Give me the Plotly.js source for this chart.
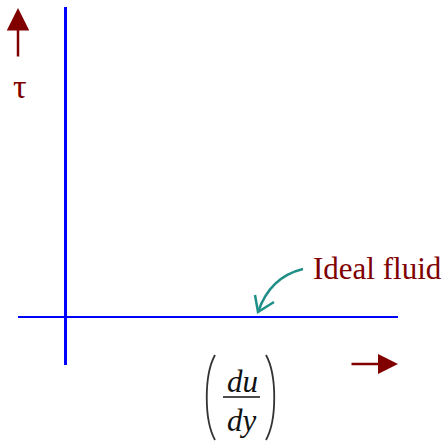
<!DOCTYPE html>
<html>
<head>
<meta charset="utf-8">
<script src="https://cdn.plot.ly/plotly-3.0.1.min.js"></script>
<style>html,body{margin:0;padding:0;background:#fff;}#chart{width:445px;height:441px;}</style>
</head>
<body>
<div id="chart"></div>
<script>
// Ideal fluid: shear stress is zero for every rate of shear strain
const shearRate = [-47, 333];      // du/dy
const idealStress = [0, 0];        // tau
const tauAxisX = [0.5, 0.5];
const tauAxisY = [-48, 310];
const labels = { tau: 'τ', fluid: 'Ideal fluid', num: 'du', den: 'dy' };

const maroon = '#800000';
const teal = '#1f8f88';
const serif = '"Liberation Serif", "Times New Roman", serif';

const traces = [
  { x: tauAxisX, y: tauAxisY, mode: 'lines', line: { color: '#0000ff', width: 3 }, hoverinfo: 'skip' },
  { x: shearRate, y: idealStress, mode: 'lines', line: { color: '#0000ff', width: 2 }, hoverinfo: 'skip' }
];

const layout = {
  width: 445, height: 441,
  margin: { l: 0, r: 0, t: 0, b: 0 },
  paper_bgcolor: '#fff', plot_bgcolor: '#fff',
  showlegend: false,
  xaxis: { range: [-65, 380], visible: false, fixedrange: true },
  yaxis: { range: [-124, 317], visible: false, fixedrange: true },
  shapes: [
    // curved teal arrow
    { type: 'path', xref: 'x', yref: 'y', path: 'M 238 48 Q 205 40 193 5', line: { color: teal, width: 2.5 } },
    { type: 'path', xref: 'x', yref: 'y', path: 'M 190 22 L 193 5 L 209 15', line: { color: teal, width: 2.5 } },
    // fraction bar
    { type: 'line', xref: 'x', yref: 'y', x0: 158, x1: 195, y0: -80, y1: -80, line: { color: '#111', width: 1.5 } },
    // parentheses
    { type: 'path', xref: 'x', yref: 'y', path: 'M 150 -38 C 139 -58 139 -103 150 -123', line: { color: '#333', width: 1.8 } },
    { type: 'path', xref: 'x', yref: 'y', path: 'M 201 -38 C 212 -58 212 -103 201 -123', line: { color: '#333', width: 1.8 } }
  ],
  annotations: [
    { x: -47, y: 309, ax: -47, ay: 259, xref: 'x', yref: 'y', axref: 'x', ayref: 'y', text: '', showarrow: true,
      arrowhead: 2, arrowsize: 1.8, arrowwidth: 2.5, arrowcolor: maroon },
    { x: 333, y: -47, ax: 285, ay: -47, xref: 'x', yref: 'y', axref: 'x', ayref: 'y', text: '', showarrow: true,
      arrowhead: 2, arrowsize: 1.6, arrowwidth: 2.5, arrowcolor: maroon },
    { x: -45, y: 231, xref: 'x', yref: 'y', text: labels.tau, showarrow: false,
      font: { family: serif, size: 34, color: maroon } },
    { x: 246, y: 49, xref: 'x', yref: 'y', text: labels.fluid, showarrow: false, xanchor: 'left',
      font: { family: serif, size: 31, color: maroon } },
    { x: 177, y: -64, xref: 'x', yref: 'y', text: '<i>' + labels.num + '</i>', showarrow: false,
      font: { family: serif, size: 31, color: '#111' } },
    { x: 177, y: -103, xref: 'x', yref: 'y', text: '<i>' + labels.den + '</i>', showarrow: false,
      font: { family: serif, size: 31, color: '#111' } }
  ]
};

Plotly.newPlot('chart', traces, layout, { staticPlot: true, displayModeBar: false });
</script>
</body>
</html>
